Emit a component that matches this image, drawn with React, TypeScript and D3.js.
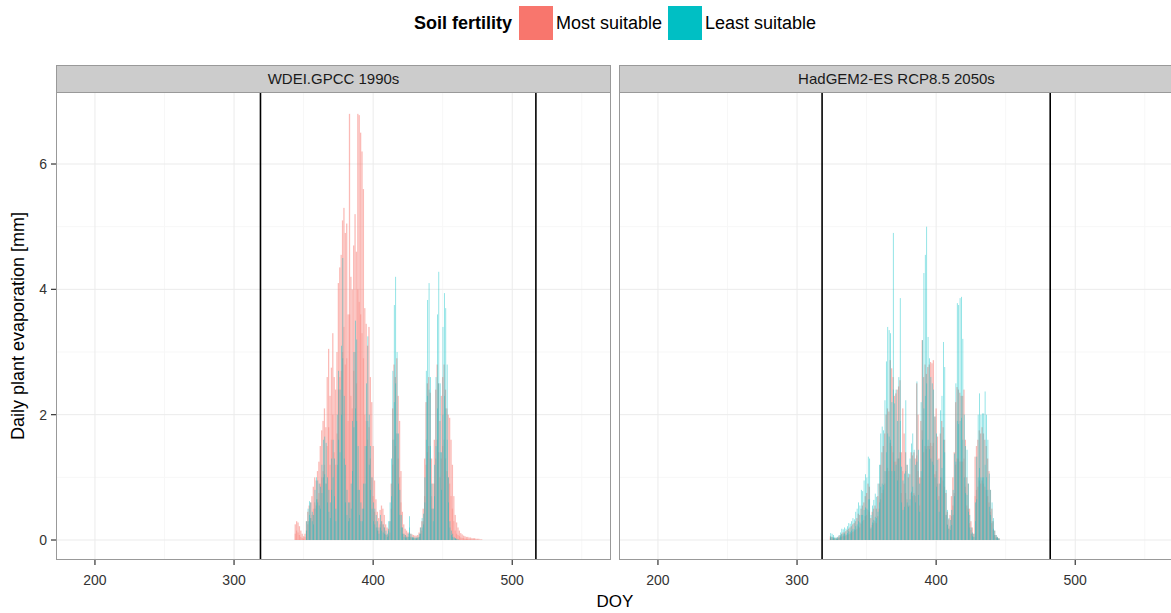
import React from 'react';
import * as d3 from 'd3';

// ---------- data ----------
const panelTitles = ['WDEI.GPCC 1990s', 'HadGEM2-ES RCP8.5 2050s'];
const legendTitle = 'Soil fertility';
const fertilityClasses = ['Most suitable', 'Least suitable'];
const xTicks = [200, 300, 400, 500];
const yTicks = [0, 2, 4, 6];
const xLabel = 'DOY';
const yLabel = 'Daily plant evaporation [mm]';

// growing-season bounds (vertical lines), DOY
const wdeiSeason = [319, 517];
const hadSeason = [318, 482];

// WDEI.GPCC 1990s, DOY 344..478
const wdeiStart = 344;
const wdeiMostHigh = [
  0.25, 0.3, 0.28, 0.22, 0.15, 0.1, 0.06, 0.1, 0.3, 0.45,
  0.55, 0.6, 0.7, 0.85, 1.0, 0.95, 1.1, 1.25, 1.5, 1.75,
  1.9, 2.1, 1.8, 2.6, 3.05, 2.3, 2.75, 3.3, 2.6, 2.4,
  3.0, 4.1, 4.35, 4.55, 5.1, 5.3, 4.9, 5.05, 3.6, 6.8,
  4.2, 4.0, 4.7, 5.2, 4.6, 6.8, 6.78, 6.5, 6.2, 5.6,
  3.7, 3.45, 3.1, 3.4, 2.6, 2.2, 1.5, 0.95, 0.65, 0.45,
  0.35, 0.48, 0.55, 0.5, 0.4, 0.25, 0.2, 0.18, 0.3, 0.9,
  2.1, 2.8, 2.6, 2.9, 2.3, 1.9, 1.1, 0.45, 0.25, 0.18,
  0.15, 0.12, 0.12, 0.1, 0.09, 0.08, 0.07, 0.07, 0.08, 0.12,
  0.2, 0.3, 0.5, 1.3, 2.2, 2.5, 2.6, 2.35, 1.3, 0.9,
  1.6, 2.4, 2.8, 2.5, 1.9, 2.3, 2.6, 2.8, 2.4, 2.1,
  2.0, 1.95, 1.6, 1.2, 0.7, 0.4, 0.28, 0.2, 0.15, 0.11,
  0.09, 0.07, 0.06, 0.05, 0.05, 0.04, 0.04, 0.03, 0.03, 0.03,
  0.02, 0.02, 0.02, 0.01, 0.01,
];
const wdeiMostLow = [
  0.1, 0.15, 0.12, 0.08, 0.05, 0.03, 0.02, 0.05, 0.15, 0.25,
  0.3, 0.35, 0.4, 0.5, 0.6, 0.55, 0.65, 0.75, 0.9, 1.0,
  1.1, 1.2, 0.9, 1.5, 1.8, 1.2, 1.6, 2.0, 1.4, 1.2,
  1.7, 2.4, 2.6, 2.7, 3.0, 3.4, 2.8, 2.9, 1.9, 3.6,
  2.3, 2.1, 2.7, 3.0, 2.5, 4.0, 3.8, 3.6, 3.3, 2.9,
  2.0, 1.9, 1.6, 1.8, 1.3, 1.0, 0.7, 0.45, 0.3, 0.2,
  0.15, 0.25, 0.3, 0.25, 0.2, 0.1, 0.08, 0.07, 0.12, 0.5,
  1.2, 1.6, 1.5, 1.7, 1.3, 1.0, 0.6, 0.2, 0.1, 0.08,
  0.06, 0.05, 0.05, 0.04, 0.04, 0.03, 0.03, 0.03, 0.03, 0.05,
  0.1, 0.15, 0.3, 0.7, 1.2, 1.4, 1.5, 1.3, 0.7, 0.5,
  0.9, 1.3, 1.6, 1.4, 1.0, 1.3, 1.5, 1.6, 1.3, 1.1,
  1.0, 0.9, 0.7, 0.5, 0.3, 0.15, 0.1, 0.08, 0.06, 0.04,
  0.03, 0.03, 0.02, 0.02, 0.02, 0.01, 0.01, 0.01, 0.01, 0.01,
  0, 0, 0, 0, 0,
];
const wdeiLeastHigh = [
  0, 0, 0, 0, 0, 0, 0, 0, 0.3, 0.5,
  0.62, 0.6, 0.45, 0.4, 0.8, 1.0, 0.95, 0.9, 0.85, 1.2,
  1.6, 1.65, 1.55, 1.0, 0.8, 0.6, 1.3, 1.6, 1.3, 0.5,
  2.0, 2.7, 2.4, 3.1, 4.5, 2.3, 1.2, 0.8, 0.6, 0.6,
  0.9, 1.9, 3.0, 3.5, 3.2, 1.5, 0.8, 0.6, 0.5, 0.9,
  1.5, 2.5, 3.25, 2.0, 1.5, 1.0, 0.6, 0.5, 0.4, 0.3,
  0.2, 0.4, 0.3, 0.25, 0.2, 0.15, 0.1, 0.3, 0.6, 1.3,
  2.7, 3.75, 4.2, 3.0, 1.7, 0.8, 0.4, 0.2, 0.1, 0.08,
  0.05, 0.1, 0.38, 0.1, 0.05, 0.05, 0.04, 0.04, 0.05, 0.1,
  0.2, 0.35, 0.42, 1.0, 2.7, 3.83, 4.1, 2.6, 0.9, 0.5,
  1.2, 2.6, 3.6, 4.28, 2.5, 1.4, 3.4, 3.94, 3.7, 2.8,
  1.0, 0.3, 0.15, 0.1, 0.05, 0.03, 0.02, 0.01, 0, 0,
  0, 0, 0, 0, 0, 0, 0, 0, 0, 0,
  0, 0, 0, 0, 0,
];
const wdeiLeastLow = [
  0, 0, 0, 0, 0, 0, 0, 0, 0.15, 0.3,
  0.4, 0.35, 0.3, 0.25, 0.5, 0.65, 0.6, 0.55, 0.5, 0.75,
  1.0, 1.05, 0.9, 0.6, 0.45, 0.35, 0.8, 1.0, 0.7, 0.3,
  1.2, 1.6, 1.4, 2.0, 2.9, 1.3, 0.6, 0.4, 0.3, 0.35,
  0.5, 1.1, 1.8, 2.1, 1.9, 0.8, 0.4, 0.3, 0.3, 0.5,
  0.9, 1.5, 1.9, 1.2, 0.8, 0.5, 0.3, 0.25, 0.2, 0.15,
  0.1, 0.2, 0.15, 0.12, 0.1, 0.08, 0.05, 0.15, 0.3, 0.7,
  1.6, 2.2, 2.5, 1.7, 0.9, 0.4, 0.2, 0.1, 0.05, 0.04,
  0.03, 0.05, 0.2, 0.05, 0.03, 0.03, 0.02, 0.02, 0.03, 0.05,
  0.1, 0.2, 0.25, 0.6, 1.6, 2.3, 2.4, 1.5, 0.5, 0.3,
  0.7, 1.5, 2.1, 2.5, 1.4, 0.8, 2.0, 2.3, 2.1, 1.6,
  0.6, 0.2, 0.08, 0.05, 0.03, 0.02, 0.01, 0, 0, 0,
  0, 0, 0, 0, 0, 0, 0, 0, 0, 0,
  0, 0, 0, 0, 0,
];

// HadGEM2-ES RCP8.5 2050s, DOY 324..445
const hadStart = 324;
const hadMostHigh = [
  0.06, 0.05, 0.04, 0.03, 0.03, 0.04, 0.06, 0.08, 0.1, 0.12,
  0.12, 0.14, 0.16, 0.18, 0.2, 0.22, 0.25, 0.27, 0.3, 0.35,
  0.42, 0.4, 0.5, 0.55, 0.6, 0.7, 0.75, 0.9, 0.85, 0.35,
  0.45, 0.5, 0.55, 0.5, 0.7, 0.9, 1.2, 1.4, 1.5, 1.7,
  2.0, 2.1, 2.05, 2.87, 2.74, 2.6, 2.3, 2.34, 2.4, 2.45,
  2.55, 1.4, 2.1, 1.7, 1.4, 1.2, 1.0, 1.05, 1.4, 1.35,
  1.4, 1.3, 2.5, 2.0, 1.0, 1.9, 3.19, 2.6, 2.8, 2.65,
  2.76, 2.8, 2.84, 2.82, 2.87, 1.97, 2.1, 1.65, 1.3, 1.7,
  1.9, 1.8, 1.6, 0.75, 0.45, 0.33, 0.4, 0.7, 1.0, 1.4,
  2.2, 2.44, 2.4, 2.35, 2.3, 2.3, 2.4, 1.6, 1.0, 0.9,
  0.5, 0.3, 0.2, 0.1, 1.33, 1.5, 1.6, 1.75, 1.7, 1.8,
  1.7, 1.6, 1.5, 1.3, 1.1, 0.8, 0.5, 0.3, 0.15, 0.08,
  0.05, 0.03,
];
const hadMostLow = [
  0.03, 0.02, 0.02, 0.01, 0.01, 0.02, 0.03, 0.04, 0.05, 0.06,
  0.06, 0.07, 0.08, 0.09, 0.1, 0.11, 0.13, 0.14, 0.16, 0.18,
  0.22, 0.2, 0.26, 0.3, 0.32, 0.38, 0.4, 0.48, 0.45, 0.18,
  0.24, 0.27, 0.3, 0.27, 0.38, 0.5, 0.65, 0.75, 0.8, 0.9,
  1.1, 1.15, 1.1, 1.55, 1.5, 1.4, 1.25, 1.25, 1.3, 1.3,
  1.4, 0.75, 1.1, 0.9, 0.75, 0.65, 0.55, 0.55, 0.75, 0.7,
  0.75, 0.7, 1.35, 1.1, 0.55, 1.0, 1.75, 1.4, 1.5, 1.45,
  1.5, 1.5, 1.55, 1.5, 1.55, 1.05, 1.1, 0.9, 0.7, 0.9,
  1.0, 0.95, 0.85, 0.4, 0.25, 0.18, 0.22, 0.38, 0.55, 0.75,
  1.2, 1.3, 1.3, 1.25, 1.25, 1.25, 1.3, 0.85, 0.55, 0.5,
  0.27, 0.16, 0.1, 0.05, 0.7, 0.8, 0.85, 0.95, 0.9, 0.95,
  0.9, 0.85, 0.8, 0.7, 0.6, 0.45, 0.27, 0.16, 0.08, 0.04,
  0.03, 0.02,
];
const hadLeastHigh = [
  0.11, 0.1, 0.08, 0.05, 0.04, 0.05, 0.08, 0.12, 0.18, 0.17,
  0.2, 0.18, 0.22, 0.27, 0.26, 0.3, 0.35, 0.33, 0.45, 0.5,
  0.6, 0.55, 0.8, 0.78, 0.95, 1.05, 1.0, 1.33, 1.3, 0.4,
  0.55, 0.64, 0.74, 0.69, 0.9, 1.2, 1.7, 1.81, 1.75, 2.23,
  2.85, 3.4, 3.35, 3.3, 2.2, 4.9, 2.18, 2.4, 1.9, 2.6,
  3.86, 1.17, 0.95, 1.06, 2.23, 1.2, 1.06, 1.3, 1.54, 1.7,
  1.44, 1.2, 2.53, 1.44, 0.9, 2.2, 3.19, 4.26, 4.55, 5.0,
  3.24, 2.9, 2.6, 2.5, 2.4, 1.97, 1.7, 1.28, 0.9, 2.07,
  2.3, 3.16, 2.76, 0.8, 0.48, 0.35, 0.32, 0.48, 0.8, 1.38,
  2.5, 3.78, 3.75, 3.86, 3.88, 3.21, 2.0, 1.5, 1.44, 0.9,
  0.4, 0.2, 0.12, 0.1, 0.6, 1.33, 2.0, 2.34, 2.0, 2.02,
  2.02, 2.37, 2.0, 1.6, 1.06, 0.8, 0.6, 0.35, 0.15, 0.08,
  0.05, 0.03,
];
const hadLeastLow = [
  0.05, 0.05, 0.04, 0.03, 0.02, 0.02, 0.04, 0.06, 0.09, 0.09,
  0.1, 0.09, 0.11, 0.14, 0.13, 0.15, 0.18, 0.17, 0.22, 0.25,
  0.3, 0.28, 0.4, 0.4, 0.48, 0.52, 0.5, 0.65, 0.65, 0.2,
  0.28, 0.32, 0.37, 0.35, 0.45, 0.6, 0.85, 0.9, 0.88, 1.1,
  1.4, 1.7, 1.65, 1.6, 1.1, 2.4, 1.1, 1.2, 0.95, 1.3,
  1.9, 0.6, 0.48, 0.53, 1.1, 0.6, 0.53, 0.65, 0.77, 0.85,
  0.72, 0.6, 1.25, 0.72, 0.45, 1.1, 1.6, 2.1, 2.3, 2.5,
  1.6, 1.45, 1.3, 1.25, 1.2, 1.0, 0.85, 0.64, 0.45, 1.0,
  1.15, 1.6, 1.4, 0.4, 0.24, 0.18, 0.16, 0.24, 0.4, 0.7,
  1.25, 1.9, 1.85, 1.9, 1.95, 1.6, 1.0, 0.75, 0.72, 0.45,
  0.2, 0.1, 0.06, 0.05, 0.3, 0.65, 1.0, 1.15, 1.0, 1.0,
  1.0, 1.2, 1.0, 0.8, 0.53, 0.4, 0.3, 0.18, 0.08, 0.04,
  0.03, 0.02,
];

// ---------- styles ----------
const PINK = '#F8766D';
const TEAL = '#00BFC4';
const FONT = 'Liberation Sans, Arial, Helvetica, sans-serif';

// offset / width in DOY units
type Layer = { start: number; values: number[]; color: string; opacity: number; offset: number; width: number };

const panels = [
  {
    title: panelTitles[0],
    season: wdeiSeason,
    layers: [
      { start: wdeiStart, values: wdeiMostHigh, color: PINK, opacity: 0.5, offset: 0, width: 0.9 },
      { start: wdeiStart, values: wdeiMostLow, color: PINK, opacity: 0.35, offset: 0, width: 0.9 },
      { start: wdeiStart, values: wdeiLeastHigh, color: TEAL, opacity: 0.55, offset: 0.2, width: 0.55 },
      { start: wdeiStart, values: wdeiLeastLow, color: TEAL, opacity: 0.45, offset: 0.2, width: 0.55 },
    ] as Layer[],
  },
  {
    title: panelTitles[1],
    season: hadSeason,
    layers: [
      { start: hadStart, values: hadMostHigh, color: PINK, opacity: 0.5, offset: 0, width: 0.9 },
      { start: hadStart, values: hadMostLow, color: PINK, opacity: 0.35, offset: 0, width: 0.9 },
      { start: hadStart, values: hadLeastHigh, color: TEAL, opacity: 0.55, offset: 0.2, width: 0.55 },
      { start: hadStart, values: hadLeastLow, color: TEAL, opacity: 0.45, offset: 0.2, width: 0.55 },
    ] as Layer[],
  },
];

export default function App() {
  const W = 1171;
  const H = 613;
  const panelLeft = 56;
  const panelW = 555;
  const panelGap = 8;
  const stripTop = 65;
  const plotTop = 92;
  const plotBottom = 560;

  const x = d3.scaleLinear().domain([172, 571]).range([0, panelW]);
  const y = d3.scaleLinear().domain([-0.319, 7.149]).range([plotBottom, plotTop]);
  const xMinor = [250, 350, 450, 550];
  const yMinor = [1, 3, 5];
  const unit = x(1) - x(0);

  return (
    <svg
      width={W}
      height={H}
      style={{ position: 'absolute', left: 0, top: 0, background: '#fff' }}
      fontFamily={FONT}
    >
      <rect x={0} y={0} width={W} height={H} fill="#fff" />
      <defs>
        {panels.map((p, i) => (
          <clipPath id={`clip${i}`} key={i}>
            <rect x={0} y={plotTop} width={panelW} height={plotBottom - plotTop} />
          </clipPath>
        ))}
      </defs>

      {/* legend */}
      <g>
        <text x={512} y={29} textAnchor="end" fontSize={18} fontWeight="bold" fill="#000">
          {legendTitle}
        </text>
        <rect x={519} y={6} width={34} height={34} fill={PINK} />
        <text x={556} y={29} fontSize={18} fill="#000">{fertilityClasses[0]}</text>
        <rect x={668} y={6} width={34} height={34} fill={TEAL} />
        <text x={705} y={29} fontSize={18} fill="#000">{fertilityClasses[1]}</text>
      </g>

      {panels.map((p, i) => {
        const ox = panelLeft + i * (panelW + panelGap);
        return (
          <g key={i} transform={`translate(${ox},0)`}>
            {/* strip */}
            <rect x={0.5} y={stripTop + 0.5} width={panelW - 1} height={plotTop - stripTop} fill="#CCCCCC" stroke="#999" strokeWidth={1} />
            <text x={panelW / 2} y={(stripTop + plotTop) / 2 + 5.5} textAnchor="middle" fontSize={15} fill="#1a1a1a">
              {p.title}
            </text>
            {/* panel bg */}
            <rect x={0} y={plotTop} width={panelW} height={plotBottom - plotTop} fill="#fff" />
            {/* grid */}
            {xMinor.map((v) => (
              <line key={`xm${v}`} x1={x(v)} x2={x(v)} y1={plotTop} y2={plotBottom} stroke="#F7F7F7" strokeWidth={1} />
            ))}
            {yMinor.map((v) => (
              <line key={`ym${v}`} x1={0} x2={panelW} y1={y(v)} y2={y(v)} stroke="#F7F7F7" strokeWidth={1} />
            ))}
            {xTicks.map((v) => (
              <line key={`xg${v}`} x1={x(v)} x2={x(v)} y1={plotTop} y2={plotBottom} stroke="#EBEBEB" strokeWidth={1} />
            ))}
            {yTicks.map((v) => (
              <line key={`yg${v}`} x1={0} x2={panelW} y1={y(v)} y2={y(v)} stroke="#EBEBEB" strokeWidth={1} />
            ))}
            {/* bars */}
            <g clipPath={`url(#clip${i})`}>
              {p.layers.map((layer, li) => (
                <g key={li} fill={layer.color} fillOpacity={layer.opacity}>
                  {layer.values.map((v, k) =>
                    v > 0 ? (
                      <rect
                        key={k}
                        x={x(layer.start + k + layer.offset) - (layer.width * unit) / 2}
                        width={layer.width * unit}
                        y={y(v)}
                        height={y(0) - y(v)}
                      />
                    ) : null
                  )}
                </g>
              ))}
              {p.season.map((d) => (
                <line key={`v${d}`} x1={x(d)} x2={x(d)} y1={plotTop} y2={plotBottom} stroke="#000" strokeWidth={1.6} />
              ))}
            </g>
            {/* border */}
            <rect x={0.5} y={plotTop + 0.5} width={panelW - 1} height={plotBottom - plotTop - 1} fill="none" stroke="#999" strokeWidth={1} />
            {/* x axis */}
            {xTicks.map((v) => (
              <g key={`xt${v}`}>
                <line x1={x(v)} x2={x(v)} y1={plotBottom} y2={plotBottom + 5} stroke="#333" strokeWidth={1.2} />
                <text x={x(v)} y={plotBottom + 25} textAnchor="middle" fontSize={14} fill="#333">
                  {v}
                </text>
              </g>
            ))}
          </g>
        );
      })}

      {/* y axis */}
      {yTicks.map((v) => (
        <g key={`yt${v}`}>
          <line x1={panelLeft - 5} x2={panelLeft} y1={y(v)} y2={y(v)} stroke="#333" strokeWidth={1.2} />
          <text x={panelLeft - 9} y={y(v) + 5} textAnchor="end" fontSize={14} fill="#333">
            {v}
          </text>
        </g>
      ))}

      {/* axis titles */}
      <text x={615} y={607} textAnchor="middle" fontSize={17} fill="#000">{xLabel}</text>
      <text
        transform={`translate(24,${(plotTop + plotBottom) / 2}) rotate(-90)`}
        textAnchor="middle"
        fontSize={18}
        fill="#000"
      >
        {yLabel}
      </text>
    </svg>
  );
}
